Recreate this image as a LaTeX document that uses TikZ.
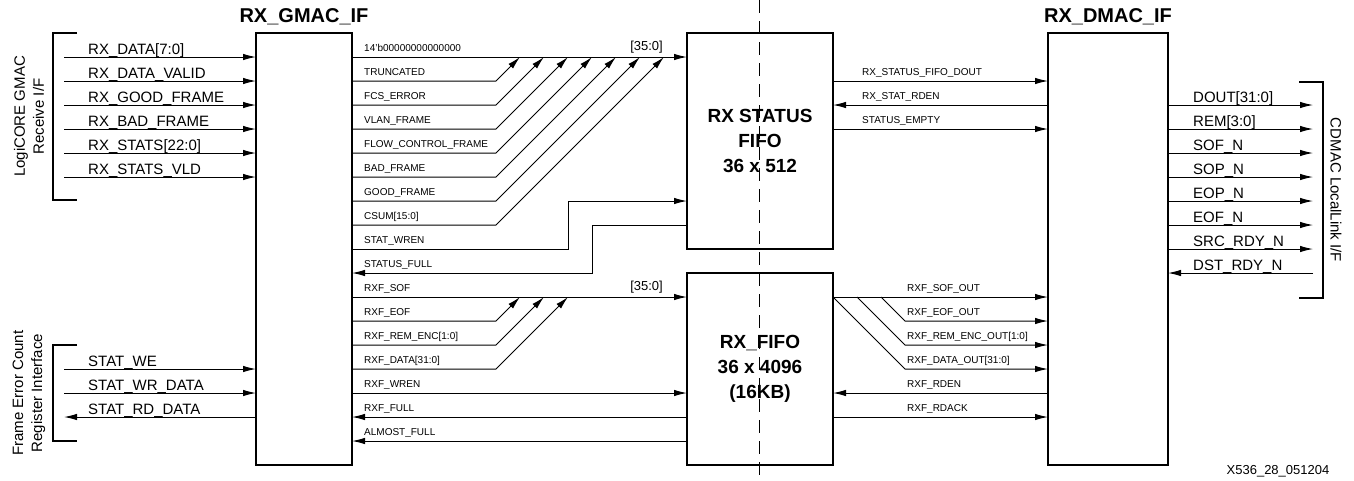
\documentclass[tikz,border=0pt]{standalone}
\usepackage{fontspec}
\setmainfont{Liberation Sans}
\usetikzlibrary{arrows.meta}
\newcommand\fBig{\fontsize{15}{19}\selectfont}
\newcommand\fSm{\fontsize{10}{12}\selectfont}
\newcommand\fBus{\fontsize{13}{15}\selectfont}
\newcommand\fTitle{\fontsize{20}{24}\selectfont\bfseries}
\newcommand\fBox{\fontsize{19}{25}\selectfont\bfseries}
\begin{document}
\begin{tikzpicture}[x=1pt,y=-1pt,
  box/.style={draw, line width=2.2pt, outer sep=0pt, inner sep=0pt, align=center, font=\fBox},
  sig/.style={line width=1pt},
  arr/.style={sig, -{Latex[length=13pt,width=6.5pt]}},
  rarr/.style={sig, {Latex[length=13pt,width=6.5pt]}-},
  brk/.style={line width=2.2pt},
  bl/.style={anchor=base west, inner sep=0pt, font=\fBig},
  sl/.style={anchor=base west, inner sep=0pt, font=\fSm},
  rot/.style={inner sep=0pt, align=center, font=\fBig},
]
\useasboundingbox (0,0) rectangle (1354,480);

% boxes
\node[box, minimum width=96pt, minimum height=432pt] (gmac) at (304,249) {};
\node[box, minimum width=146pt, minimum height=216pt] (sfifo) at (760,141) {RX STATUS\\FIFO\\36 x 512};
\node[box, minimum width=146pt, minimum height=192pt] (rxfifo) at (760,369) {RX\_FIFO\\36 x 4096\\(16KB)};
\node[box, minimum width=120pt, minimum height=432pt] (dmac) at (1108,249) {};

% titles
\node[anchor=base, font=\fTitle, inner sep=0pt] (t1) at (304,22.7) {RX\_GMAC\_IF};
\node[anchor=base, font=\fTitle, inner sep=0pt] (t2) at (1108,22.7) {RX\_DMAC\_IF};

% left brackets and labels
\draw[brk] (77,33) -- (53,33) -- (53,200) -- (77,200);
\draw[brk] (77,345) -- (53,345) -- (53,441) -- (77,441);
\node[rot, rotate=90] (lg) at (29,116.5) {LogiCORE GMAC\\Receive I/F};
\node[rot, rotate=90] (fe) at (29,393) {Frame Error Count\\Register Interface};

% left inputs
\foreach \y/\t [count=\i] in {57/RX\_DATA[7:0], 81/RX\_DATA\_VALID, 105/RX\_GOOD\_FRAME, 129/RX\_BAD\_FRAME, 153/RX\_STATS[22:0], 177/RX\_STATS\_VLD, 369/STAT\_WE, 393/STAT\_WR\_DATA}{
  \coordinate (li\i) at (64,\y);
  \draw[arr] (li\i) -- (gmac.west |- li\i);
  \node[bl] (ll\i) at (88,\y-3) {\t};
}
\coordinate (lrd) at (64,417);
\draw[arr] (gmac.west |- lrd) -- (lrd);
\node[bl] (llrd) at (88,414) {STAT\_RD\_DATA};

% GMAC right side labels
\foreach \y/\t [count=\i] in {57/14'b00000000000000, 81/TRUNCATED, 105/FCS\_ERROR, 129/VLAN\_FRAME, 153/FLOW\_CONTROL\_FRAME, 177/BAD\_FRAME, 201/GOOD\_FRAME, 225/CSUM[15:0], 249/STAT\_WREN, 273/STATUS\_FULL, 297/RXF\_SOF, 321/RXF\_EOF, 345/RXF\_REM\_ENC[1:0], 369/RXF\_DATA[31:0], 393/RXF\_WREN, 417/RXF\_FULL, 441/ALMOST\_FULL}{
  \node[sl] (gl\i) at (364,\y-6) {\t};
}

% status fifo bus
\draw[arr] (gmac.east |- 0,57) -- (sfifo.west |- 0,57);
\node[anchor=base east, inner sep=0pt, font=\fBus] (bus1) at (663,50) {[35:0]};
\foreach \k in {1,...,7}{
  \draw[arr] (gmac.east |- 0,57+24*\k) -- (496,57+24*\k) -- (496+24*\k,57);
}
\draw[arr] (gmac.east |- 0,249) -- (568,249) -- (568,201) -- (sfifo.west |- 0,201);
\draw[arr] (sfifo.west |- 0,225) -- (592,225) -- (592,273) -- (gmac.east |- 0,273);

% rx fifo bus
\draw[arr] (gmac.east |- 0,297) -- (rxfifo.west |- 0,297);
\node[anchor=base east, inner sep=0pt, font=\fBus] (bus2) at (663,290) {[35:0]};
\foreach \k in {1,2,3}{
  \draw[arr] (gmac.east |- 0,297+24*\k) -- (496,297+24*\k) -- (496+24*\k,297);
}
\draw[arr] (gmac.east |- 0,393) -- (rxfifo.west |- 0,393);
\draw[arr] (rxfifo.west |- 0,417) -- (gmac.east |- 0,417);
\draw[arr] (rxfifo.west |- 0,441) -- (gmac.east |- 0,441);

% status fifo to dmac
\draw[arr] (sfifo.east |- 0,81) -- (dmac.west |- 0,81);
\draw[arr] (dmac.west |- 0,105) -- (sfifo.east |- 0,105);
\draw[arr] (sfifo.east |- 0,129) -- (dmac.west |- 0,129);
\node[sl] (sd1) at (862,75) {RX\_STATUS\_FIFO\_DOUT};
\node[sl] (sd2) at (862,99) {RX\_STAT\_RDEN};
\node[sl] (sd3) at (862,123) {STATUS\_EMPTY};

% rx fifo to dmac
\draw[arr] (rxfifo.east |- 0,297) -- (dmac.west |- 0,297);
\draw[arr] (881,297) -- (905,321) -- (dmac.west |- 0,321);
\draw[arr] (857,297) -- (905,345) -- (dmac.west |- 0,345);
\draw[arr] (rxfifo.east |- 0,297) -- (905,369) -- (dmac.west |- 0,369);
\draw[arr] (dmac.west |- 0,393) -- (rxfifo.east |- 0,393);
\draw[arr] (rxfifo.east |- 0,417) -- (dmac.west |- 0,417);
\foreach \y/\t [count=\i] in {297/RXF\_SOF\_OUT, 321/RXF\_EOF\_OUT, 345/RXF\_REM\_ENC\_OUT[1:0], 369/RXF\_DATA\_OUT[31:0], 393/RXF\_RDEN, 417/RXF\_RDACK}{
  \node[sl] (rd\i) at (907,\y-6) {\t};
}

% right outputs
\foreach \y/\t [count=\i] in {105/DOUT[31:0], 129/REM[3:0], 153/SOF\_N, 177/SOP\_N, 201/EOP\_N, 225/EOF\_N, 249/SRC\_RDY\_N}{
  \coordinate (ro\i) at (1313,\y);
  \draw[arr] (dmac.east |- ro\i) -- (ro\i);
  \node[bl] (rl\i) at (1193,\y-2.5) {\t};
}
\coordinate (rdst) at (1313,273);
\draw[arr] (rdst) -- (dmac.east |- rdst);
\node[bl] (rldst) at (1193,270.5) {DST\_RDY\_N};

\draw[brk] (1299,82) -- (1323,82) -- (1323,298) -- (1299,298);
\node[rot, rotate=-90] (cd) at (1336,190) {CDMAC LocalLink I/F};

% dashed divider
\coordinate (dtop) at (759,0);
\coordinate (dbot) at (759,480);
\draw[line width=1pt, dash pattern=on 13pt off 8pt] (dtop) -- (dbot);

% footer
\node[anchor=base, inner sep=0pt, font=\fBus] (foot) at (1278,474) {X536\_28\_051204};
\end{tikzpicture}
\end{document}
